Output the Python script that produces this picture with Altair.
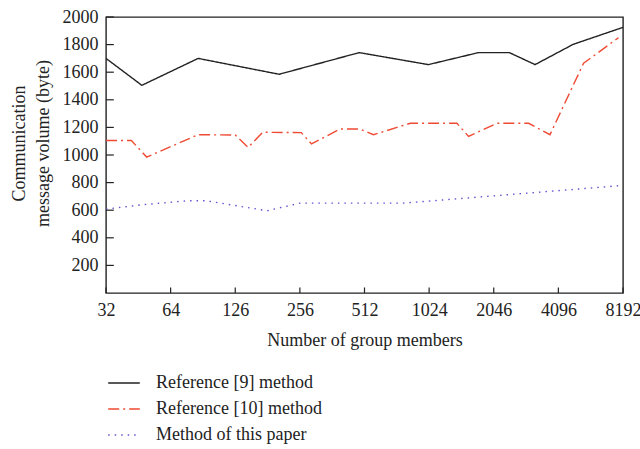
import altair as alt
import pandas as pd

# Group sizes (members) and message volumes (bytes) for each method
ref9_members = [32, 47, 86, 205, 484, 1016, 1738, 2421, 3190, 4803, 8192]
ref9_volume = [1700, 1505, 1700, 1585, 1742, 1655, 1742, 1742, 1655, 1802, 1925]

ref10_members = [32, 42, 49.5, 86, 128, 147, 172, 260, 290, 394, 488, 564, 837,
                 1380, 1563, 2118, 2978, 3743, 5367, 7804]
ref10_volume = [1105, 1105, 985, 1147, 1145, 1055, 1165, 1162, 1080, 1188, 1188,
                1147, 1230, 1230, 1135, 1230, 1230, 1147, 1665, 1850]

ours_members = [32, 47, 76, 94, 180, 256, 776, 7804]
ours_volume = [608, 639, 668, 668, 596, 651, 651, 777]

series_names = ["Reference [9] method", "Reference [10] method", "Method of this paper"]
series_colors = ["#222222", "#ef4a33", "#6b4fd3"]
series_dashes = [[1, 0], [11, 4, 2, 4], [1.5, 5]]

x_ticks = [32, 64, 128, 256, 512, 1024, 2048, 4096, 8192]
x_tick_labels = ["32", "64", "126", "256", "512", "1024", "2046", "4096", "8192"]
y_ticks = [200, 400, 600, 800, 1000, 1200, 1400, 1600, 1800, 2000]

rows = []
for name, xs, ys in zip(series_names,
                        [ref9_members, ref10_members, ours_members],
                        [ref9_volume, ref10_volume, ours_volume]):
    for i, (m, v) in enumerate(zip(xs, ys)):
        rows.append({"series": name, "members": m, "volume": v, "order": i})
df = pd.DataFrame(rows)

FONT = "Liberation Serif"
label_expr = "{" + ",".join(f"'{v}':'{l}'" for v, l in zip(x_ticks, x_tick_labels)) + "}[''+datum.value]"

x_scale = alt.Scale(type="log", base=2, domain=[32, 8192], nice=False)
y_scale = alt.Scale(domain=[0, 2000], nice=False)

x_axis = alt.Axis(values=x_ticks, labelExpr=label_expr, title="Number of group members",
                  ticks=False, domain=False, grid=False, labelPadding=8,
                  labelFlush=False, labelOverlap=False, titlePadding=12)
y_axis = alt.Axis(values=y_ticks, format="d", title=["Communication", "message volume (byte)"],
                  ticks=False, domain=False, grid=False, labelPadding=8,
                  labelOverlap=False, titlePadding=10, titleLineHeight=24, titleY=126)

legend = alt.Legend(title=None, orient="none", legendX=1, legendY=349,
                    symbolType="stroke", symbolSize=1000, symbolStrokeWidth=1.6,
                    labelOffset=15, rowPadding=0, labelFontSize=18, labelFont=FONT,
                    labelColor="#222222", labelLimit=400)

lines = alt.Chart(df).mark_line(strokeWidth=1.4).encode(
    x=alt.X("members:Q", scale=x_scale, axis=x_axis),
    y=alt.Y("volume:Q", scale=y_scale, axis=y_axis),
    color=alt.Color("series:N", sort=series_names,
                    scale=alt.Scale(domain=series_names, range=series_colors),
                    legend=legend),
    strokeDash=alt.StrokeDash("series:N", sort=series_names,
                              scale=alt.Scale(domain=series_names, range=series_dashes),
                              legend=legend),
    order="order:Q",
)

# Inward tick marks along the bottom and left edges
xtick_df = pd.DataFrame({"members": x_ticks, "y0": [0] * len(x_ticks), "y1": [40] * len(x_ticks)})
xticks = alt.Chart(xtick_df).mark_rule(color="#222222", strokeWidth=1.2).encode(
    x=alt.X("members:Q", scale=x_scale, axis=x_axis),
    y=alt.Y("y0:Q", scale=y_scale, axis=y_axis),
    y2="y1:Q",
)
ytick_df = pd.DataFrame({"volume": y_ticks, "x0": [32] * len(y_ticks), "x1": [34.8] * len(y_ticks)})
yticks = alt.Chart(ytick_df).mark_rule(color="#222222", strokeWidth=1.2).encode(
    y=alt.Y("volume:Q", scale=y_scale, axis=y_axis),
    x=alt.X("x0:Q", scale=x_scale, axis=x_axis),
    x2="x1:Q",
)

chart = alt.layer(lines, xticks, yticks).properties(
    width=517, height=276,
    autosize=alt.AutoSizeParams(type="none"),
    padding={"left": 106, "top": 17, "right": 17, "bottom": 156},
    background="white",
).configure_view(
    stroke="#222222", strokeWidth=1.4,
).configure_axis(
    labelFont=FONT, titleFont=FONT, labelFontSize=18, titleFontSize=18,
    labelColor="#222222", titleColor="#222222", titleFontWeight="normal",
)

chart.save("out.html", embed_options={"renderer": "svg", "actions": False})
